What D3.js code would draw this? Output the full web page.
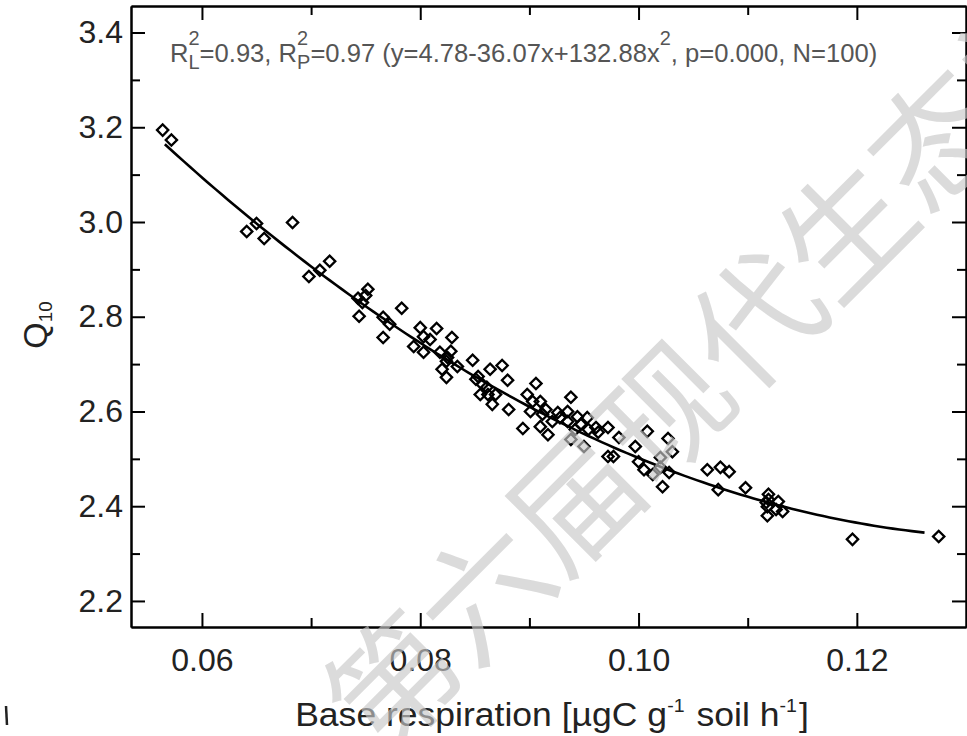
<!DOCTYPE html>
<html><head><meta charset="utf-8">
<script src="https://cdn.jsdelivr.net/npm/d3@7"></script>
<style>body{margin:0;background:#fff}svg{display:block}</style>
</head><body>
<svg id="c" width="967" height="736"></svg>
<script>
// ---------- data ----------
const respiration = [
0.0564,0.0572,
0.0641,0.0650,0.0657,0.0683,
0.0698,0.0708,0.0717,
0.0743,0.0747,0.0750,0.0752,0.0744,
0.0766,0.0772,0.0783,0.0766,
0.0794,0.0800,0.0803,0.0809,0.0815,0.0803,0.0829,0.0828,0.0818,0.0824,0.0825,0.0834,0.0820,0.0824,
0.0848,0.0853,0.0851,0.0857,0.0861,0.0855,0.0862,0.0869,0.0864,0.0875,0.0880,0.0866,0.0881,
0.0906,0.0898,0.0910,0.0903,0.0938,0.0901,0.0912,0.0915,0.0926,0.0935,0.0944,0.0953,0.0921,0.0928,0.0935,
0.0947,0.0942,0.0894,0.0910,0.0917,0.0954,0.0938,0.0950,0.0963,0.0961,0.0972,0.0982,0.0972,0.0977,0.0997,
0.1008,0.1027,0.1031,0.1000,0.1005,0.1013,0.1020,0.1020,0.1028,0.1022,
0.1063,0.1075,0.1083,0.1073,0.1098,0.1119,0.1119,0.1128,0.1118,0.1117,0.1126,0.1132,0.1118,
0.1196,0.1275];
const q10 = [
3.194,3.173,
2.980,2.997,2.965,2.999,
2.885,2.898,2.917,
2.839,2.830,2.845,2.858,2.801,
2.799,2.784,2.818,2.756,
2.737,2.777,2.758,2.752,2.775,2.725,2.756,2.727,2.725,2.706,2.714,2.695,2.689,2.672,
2.708,2.674,2.668,2.657,2.651,2.636,2.636,2.636,2.689,2.697,2.666,2.615,2.604,
2.659,2.636,2.621,2.621,2.630,2.600,2.594,2.604,2.598,2.600,2.589,2.587,2.579,2.587,2.579,
2.573,2.562,2.564,2.568,2.551,2.562,2.541,2.526,2.556,2.566,2.566,2.545,2.505,2.505,2.526,
2.558,2.543,2.515,2.494,2.477,2.467,2.503,2.482,2.471,2.441,
2.477,2.482,2.473,2.435,2.439,2.425,2.414,2.410,2.399,2.408,2.393,2.389,2.380,
2.330,2.336];
const fitCoef = [4.78, -36.07, 132.88];   // y = a + b x + c x^2
const fitRange = [0.0566, 0.1262];
const xTickVals = [0.06, 0.08, 0.10, 0.12];
const xTickLabels = ["0.06", "0.08", "0.10", "0.12"];
const xMinorVals = [0.07, 0.09, 0.11];
const yTickVals = [2.2, 2.4, 2.6, 2.8, 3.0, 3.2, 3.4];
const yTickLabels = ["2.2", "2.4", "2.6", "2.8", "3.0", "3.2", "3.4"];
const yMinorVals = [2.3, 2.5, 2.7, 2.9, 3.1, 3.3];
const watermark = "第六届现代生态学讲座";

// ---------- layout ----------
const L = 131, R = 966, T = 6, B = 627;
const FONT = "'Liberation Sans', Arial, sans-serif";
const NB = "\u00A0";
const svg = d3.select("#c");
svg.append("rect").attr("width", 967).attr("height", 736).attr("fill", "#fff");

const x = d3.scaleLinear().domain([0.0535, 0.1300]).range([L, R]);
const y = d3.scaleLinear().domain([2.145, 3.456]).range([B, T]);

const MAJ = 14, MIN = 9;
function styleAxis(g) {
  g.selectAll("path.domain").attr("stroke", "#000").attr("stroke-width", 2);
  g.selectAll(".tick line").attr("stroke", "#000").attr("stroke-width", 2);
  g.selectAll("text").attr("font-family", FONT).attr("fill", "#222");
}
// bottom
const gb = svg.append("g").attr("transform", `translate(0,${B})`)
  .call(d3.axisBottom(x).tickValues(xTickVals).tickFormat((d, i) => xTickLabels[i])
    .tickSize(-MAJ).tickSizeOuter(0).tickPadding(21));
gb.selectAll("text").attr("font-size", 32);
styleAxis(gb);
const gbm = svg.append("g").attr("transform", `translate(0,${B})`)
  .call(d3.axisBottom(x).tickValues(xMinorVals).tickFormat("").tickSize(-MIN).tickSizeOuter(0));
styleAxis(gbm);
// top
const gt = svg.append("g").attr("transform", `translate(0,${T})`)
  .call(d3.axisTop(x).tickValues(xTickVals).tickFormat("").tickSize(-MAJ).tickSizeOuter(0));
styleAxis(gt);
const gtm = svg.append("g").attr("transform", `translate(0,${T})`)
  .call(d3.axisTop(x).tickValues(xMinorVals).tickFormat("").tickSize(-MIN).tickSizeOuter(0));
styleAxis(gtm);
// left
const gl = svg.append("g").attr("transform", `translate(${L},0)`)
  .call(d3.axisLeft(y).tickValues(yTickVals).tickFormat((d, i) => yTickLabels[i])
    .tickSize(-MAJ).tickSizeOuter(0).tickPadding(8));
gl.selectAll("text").attr("font-size", 32);
styleAxis(gl);
const glm = svg.append("g").attr("transform", `translate(${L},0)`)
  .call(d3.axisLeft(y).tickValues(yMinorVals).tickFormat("").tickSize(-MIN).tickSizeOuter(0));
styleAxis(glm);
// right
const gr = svg.append("g").attr("transform", `translate(${R},0)`)
  .call(d3.axisRight(y).tickValues(yTickVals).tickFormat("").tickSize(-MAJ).tickSizeOuter(0));
styleAxis(gr);
const grm = svg.append("g").attr("transform", `translate(${R},0)`)
  .call(d3.axisRight(y).tickValues(yMinorVals).tickFormat("").tickSize(-MIN).tickSizeOuter(0));
styleAxis(grm);

// ---------- fitted curve ----------
const nSeg = 120;
const curvePts = d3.range(nSeg + 1).map(i => {
  const xv = fitRange[0] + (fitRange[1] - fitRange[0]) * i / nSeg;
  return [xv, fitCoef[0] + fitCoef[1] * xv + fitCoef[2] * xv * xv];
});
svg.append("path").datum(curvePts)
  .attr("d", d3.line().x(d => x(d[0])).y(d => y(d[1])))
  .attr("fill", "none").attr("stroke", "#000").attr("stroke-width", 2.6);

// ---------- points ----------
const sym = d3.symbol().type(d3.symbolSquare).size(64);
svg.append("g").selectAll("path").data(respiration.map((d, i) => [d, q10[i]]))
  .join("path")
  .attr("d", sym)
  .attr("transform", d => `translate(${x(d[0])},${y(d[1])}) rotate(45)`)
  .attr("fill", "none").attr("stroke", "#000").attr("stroke-width", 2.3);

// ---------- rich text helper ----------
function rich(g, x0, y0, parts, size, fill) {
  let cx = x0;
  parts.forEach(p => {
    if (typeof p === "string") {
      const t = g.append("text").attr("x", cx).attr("y", y0).attr("font-size", size)
        .attr("font-family", FONT).attr("fill", fill).text(p);
      cx += t.node().getComputedTextLength();
    } else {
      let w = 0;
      if (p.sup) {
        const t = g.append("text").attr("x", cx).attr("y", y0 - p.up).attr("font-size", size * p.scale)
          .attr("font-family", FONT).attr("fill", fill).text(p.sup);
        w = Math.max(w, t.node().getComputedTextLength());
      }
      if (p.sub) {
        const t = g.append("text").attr("x", cx).attr("y", y0 + p.down).attr("font-size", size * p.scale)
          .attr("font-family", FONT).attr("fill", fill).text(p.sub);
        w = Math.max(w, t.node().getComputedTextLength());
      }
      cx += w + (p.gap || 0);
    }
  });
  return cx - x0;
}

// annotation
const ga = svg.append("g");
rich(ga, 170, 62, [
  "R", {sup: "2", sub: "L", scale: 0.78, up: 17, down: 7},
  "=0.93, R", {sup: "2", sub: "P", scale: 0.78, up: 17, down: 7},
  "=0.97 (y=4.78-36.07x+132.88x", {sup: "2", scale: 0.78, up: 17},
  ", p=0.000, N=100)"], 25.6, "#555");

// x title
const gx = svg.append("g");
const wx = rich(gx, 0, 0, [
  "Base respiration [µgC g", {sup: "-1", scale: 0.55, up: 14, gap: 2},
  NB + "soil h", {sup: "-1", scale: 0.55, up: 14, gap: 2}, "]"], 34, "#222");
const sx = 1.045;
gx.attr("transform", `translate(${552 - sx * wx / 2},726) scale(${sx},1)`);

// y title
const gy = svg.append("g");
const wy = rich(gy, 0, 0, ["Q", {sub: "10", scale: 0.55, down: 5}], 34, "#222");
gy.attr("transform", `translate(47,${325}) rotate(-90) translate(${-wy / 2},0)`);

// ---------- watermark ----------
svg.append("text")
  .attr("transform", "translate(343,722) rotate(-45)")
  .attr("x", 0).attr("y", 0)
  .attr("dominant-baseline", "central")
  .attr("font-family", "'Noto Sans CJK SC', sans-serif")
  .attr("font-size", 128)
  .attr("fill", "#c8c8c8").attr("fill-opacity", 0.65)
  .text(watermark);

// stray mark at bottom-left of the reference
svg.append("path").attr("d", "M6,706 L7,725").attr("stroke", "#222").attr("stroke-width", 2.5);
</script>
</body></html>
